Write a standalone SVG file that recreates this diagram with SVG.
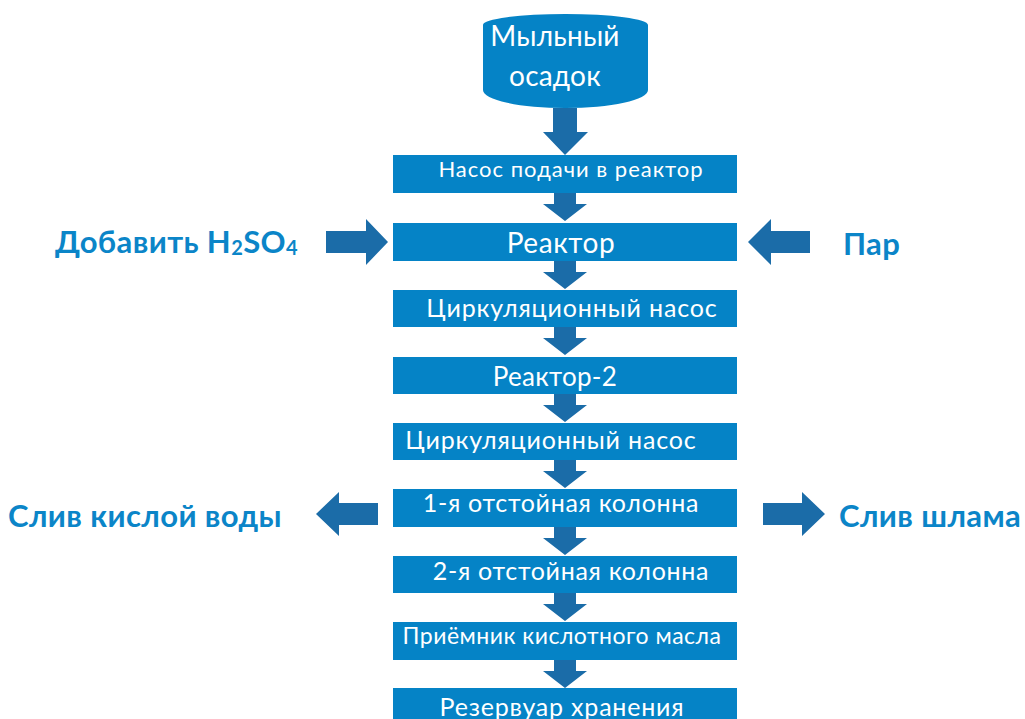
<svg xmlns="http://www.w3.org/2000/svg" xmlns:xlink="http://www.w3.org/1999/xlink" width="1025" height="719" viewBox="0 0 1025 719">
<style>
.box{fill:#0583c6}
.arr{fill:#1b6ca8}
.bt{font-family:Lato,"Liberation Sans",sans-serif;fill:#ffffff;text-anchor:middle}
.lbl{font-family:Lato,"Liberation Sans",sans-serif;font-weight:bold;fill:#0b85c8;font-size:31px;letter-spacing:0.4px}
</style>
<defs>
<polygon id="down" points="-11,0 11,0 11,11 22,11 0,28 -22,11 -11,11"/>
</defs>
<rect width="1025" height="719" fill="#ffffff"/>

<g id="connectors">
<polygon class="arr" points="553,108 577,108 577,132 588,132 565,155 543,132 553,132"/>
<use href="#down" xlink:href="#down" class="arr" x="565" y="193"/>
<use href="#down" xlink:href="#down" class="arr" x="565" y="261"/>
<use href="#down" xlink:href="#down" class="arr" x="565" y="327"/>
<use href="#down" xlink:href="#down" class="arr" x="565" y="394"/>
<use href="#down" xlink:href="#down" class="arr" x="565" y="460"/>
<use href="#down" xlink:href="#down" class="arr" x="565" y="527"/>
<use href="#down" xlink:href="#down" class="arr" x="565" y="593"/>
<use href="#down" xlink:href="#down" class="arr" x="565" y="660"/>
<polygon class="arr" points="326,231 366,231 366,219 388,242 366,265 366,253 326,253"/>
<polygon class="arr" points="810,231 771,231 771,219 748,242 771,265 771,253 810,253"/>
<polygon class="arr" points="378,503 339,503 339,492 316,514 339,536 339,525 378,525"/>
<polygon class="arr" points="763,503 802,503 802,492 825,514 802,536 802,525 763,525"/>
</g>

<g id="n0">
<path class="box" d="M483,25 A82.5,11 0 0 1 648,25 L648,90 A82.5,18 0 0 1 483,90 Z"/>
<text class="bt" x="555" y="46" font-size="28" letter-spacing="0.2">Мыльный</text>
<text class="bt" x="555" y="86" font-size="28" letter-spacing="0.2">осадок</text>
</g>
<g id="n1">
<rect class="box" x="393" y="155" width="344" height="38"/>
<text class="bt" x="571" y="177" font-size="22" letter-spacing="1">Насос подачи в реактор</text>
</g>
<g id="n2">
<rect class="box" x="393" y="223" width="344" height="38"/>
<text class="bt" x="561" y="253" font-size="28" letter-spacing="0.6">Реактор</text>
</g>
<g id="n3">
<rect class="box" x="393" y="290" width="344" height="37"/>
<text class="bt" x="572" y="317" font-size="25" letter-spacing="0.85">Циркуляционный насос</text>
</g>
<g id="n4">
<rect class="box" x="393" y="357" width="344" height="37"/>
<text class="bt" x="555" y="386" font-size="26" letter-spacing="0.3">Реактор-2</text>
</g>
<g id="n5">
<rect class="box" x="393" y="423" width="344" height="37"/>
<text class="bt" x="551" y="449" font-size="25" letter-spacing="0.85">Циркуляционный насос</text>
</g>
<g id="n6">
<rect class="box" x="393" y="489" width="344" height="38"/>
<text class="bt" x="561" y="512" font-size="25" letter-spacing="0.7">1-я отстойная колонна</text>
</g>
<g id="n7">
<rect class="box" x="393" y="556" width="344" height="37"/>
<text class="bt" x="571" y="580" font-size="25" letter-spacing="0.7">2-я отстойная колонна</text>
</g>
<g id="n8">
<rect class="box" x="393" y="622" width="344" height="38"/>
<text class="bt" x="562" y="644" font-size="23" letter-spacing="0.5">Приёмник кислотного масла</text>
</g>
<g id="n9">
<rect class="box" x="393" y="688" width="344" height="40"/>
<text class="bt" x="562" y="716" font-size="25" letter-spacing="0.8">Резервуар хранения</text>
</g>

<g id="labels">
<text class="lbl" x="55" y="253">Добавить H<tspan font-size="20" dy="2">2</tspan><tspan dy="-2">SO</tspan><tspan font-size="20" dy="2">4</tspan></text>
<text class="lbl" x="843" y="255">Пар</text>
<text class="lbl" x="8" y="527">Слив кислой воды</text>
<text class="lbl" x="839" y="527">Слив шлама</text>
</g>
</svg>
